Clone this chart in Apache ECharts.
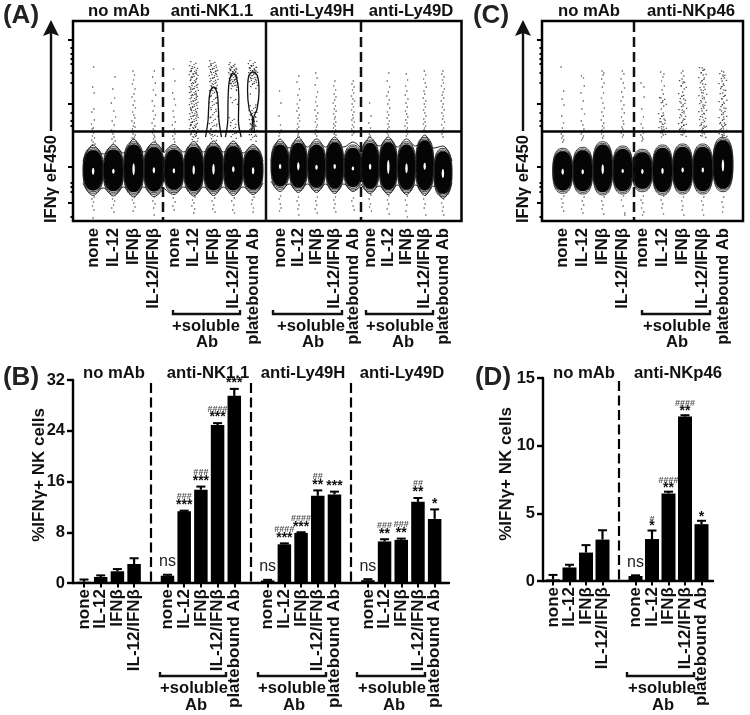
<!DOCTYPE html>
<html><head><meta charset="utf-8">
<style>html,body{margin:0;background:#fff}#c{width:750px;height:715px;filter:blur(0.35px)}</style>
<script src="https://cdn.jsdelivr.net/npm/echarts@6/dist/echarts.min.js"></script>
</head><body><div id="c"></div>
<script>
// ---------- categories ----------
const catsNoMab = ['none','IL-12','IFNβ','IL-12/IFNβ'];
const catsAb = ['none','IL-12','IFNβ','IL-12/IFNβ','platebound Ab'];

// ---------- bar values: B ----------
const barNoMabB = [0.2,0.95,1.85,3.0];
const errNoMabB = [0.55,1.2,2.2,3.9];
const barNK11 = [1.15,11.3,14.7,24.9,29.5];
const errNK11 = [1.3,11.4,15.2,25.2,30.6];
const barLy49H = [0.4,6.1,7.9,13.75,13.95];
const errLy49H = [0.5,6.25,8.0,14.6,14.4];
const barLy49D = [0.45,6.55,6.8,12.8,10.1];
const errLy49D = [0.6,6.9,7.0,13.4,11.6];
const starsNK11 = ['ns','***','***','***','***'];
const hashNK11 = ['','###','###','####',''];
const starsLy49H = ['ns','***','***','**','***'];
const hashLy49H = ['','####','####','##',''];
const starsLy49D = ['ns','**','**','**','*'];
const hashLy49D = ['','###','###','##',''];

// ---------- bar values: D ----------
const barNoMabD = [0.12,1.0,2.1,3.06];
const errNoMabD = [0.45,1.2,2.65,3.75];
const barNKp46 = [0.37,3.1,6.47,12.15,4.2];
const errNKp46 = [0.42,3.73,6.6,12.25,4.45];
const starsNKp46 = ['ns','*','**','**','*'];
const hashNKp46 = ['','#','####','####',''];

// ---------- flow plot axis ----------
const flowMajorTicks = [181,117,54,18];
const flowMinorTicks = [173,167,162,157,148,138,108,100,95,38,34,29,4];
const gateValue = 90;

// ---------- flow contours: [top, bottom] of each lane's contour, hole height ----------
const topA0 = [73.7,74.3,79.3,76.7], botA0 = [27.7,27,26,26.7], holeA0 = [7,5,12,6];
const topA1 = [74.3,77,77.7,77.7,74.3], botA1 = [28.3,27,27.7,27.7,28.3], holeA1 = [5,9,11,6,7];
const topA2 = [79.3,81,79.3,81.7,76], botA2 = [31.7,30.3,30.3,29.3,31], holeA2 = [5,8,5,5,4];
const topA3 = [81,81.7,79.3,83.7,72.7], botA3 = [29.3,28.3,28.3,27.7,24.3], holeA3 = [6,14,10,7,9];
const topC0 = [72.7,73.7,79.3,75], botC0 = [27.7,27,26,27], holeC0 = [6,5,10,4];
const topC1 = [71.7,76,77,77,83.7], botC1 = [29.3,26,27,27,29.3], holeC1 = [5,6,5,5,12];

// wave = dip, peak, dip, peak ... of the outermost contour
const waveTopA0 = [60,76,67,76.5,68,82,69,79,68], waveBotA0 = [38,25.5,33,25,34,24,34,24.5,33];
const waveTopA1 = [68,76.5,69,79.5,69,80,69,80,68,76.5,60], waveBotA1 = [33,26.5,34,25,34,25.5,34,25.5,34,26.5,38];
const waveTopA2 = [60,82,73,83.5,74,82,74,84,74,79,71], waveBotA2 = [40,29.5,37,28.5,37,28.5,37,27.5,37,29.5,37];
const waveTopA3 = [71,83.5,75,84,74,82,75,86,73,75,60], waveBotA3 = [37,27.5,35,26.5,36,26.5,36,25.5,35,22.5,38];

// tall contour loops of the anti-NK1.1 lanes
const loopIFNb = [[1.6,84],[1.72,100],[1.76,115],[1.82,128],[2,134],[2.18,128],[2.24,115],[2.28,100],[2.4,84]];
const loopCombo = [[2.6,84],[2.72,100],[2.74,125],[2.82,142],[3,148],[3.18,142],[3.28,125],[3.26,100],[3.4,84]];
const loopPlate = [[3.93,88],[3.97,103],[3.8,112],[3.72,130],[3.78,145],[4,149],[4.22,145],[4.3,130],[4.2,112],[4.03,103],[4.07,88]];

// ---------- flow dots, per lane: dx (% of a lane), y, dx, y ... ----------
const dotsA0 = [
 [3,154,-2,134,5,128,-6,109,4,112,-8,97,6,101,1,93,-5,92,2,88,-3,85,7,83,-7,81,0,79,9,77,-4,76,5,24,-6,22,2,19,-3,15,4,11,0,3],
 [8,144,-3,132,6,123,-10,118,2,110,11,104,-6,100,4,96,-9,91,7,90,-2,87,3,84,-7,82,9,80,0,78,-4,22,6,20,1,16,-8,13,3,9],
 [-3,150,4,146,0,141,-6,137,7,132,2,127,-8,124,5,120,-2,116,9,113,-5,109,1,106,6,103,-9,100,3,98,-1,95,7,94,-6,92,2,90,-3,87,8,86,4,84,-7,83,0,82,5,24,-6,21,1,18,7,14,-2,10],
 [2,150,-6,144,7,138,-2,131,9,126,-8,120,3,115,-4,110,8,106,0,102,-9,98,5,95,-3,92,6,90,-7,88,1,86,4,84,-2,82,7,80,3,24,-5,20,6,17,-1,13,2,6]];
const dotsA1 = [
 [-2,152,5,140,-6,128,2,122,8,116,-4,110,0,104,7,99,-8,96,3,92,-3,89,6,87,-6,85,1,82,4,79,-3,23,6,19,-5,15,2,11],
 [-12,150,14,147,-15,133,13,126,-14,112,15,105,-13,96,12,88,7,24,-6,21,1,18,-9,15,5,12,0,8],
 [-14,156,13,150,-16,130,14,118,-13,104,15,95,-12,86,6,23,-7,20,2,16,-4,12,8,9],
 [-15,151,14,146,-12,138,16,131,-17,90,15,88,5,23,-8,20,3,16,-3,11,6,8],
 [-16,153,15,150,-14,127,14,116,-12,92,13,86,5,24,-4,21,-8,17,2,13,0,9]];
const clusterA1 = [
 [],
 [2,156,-4,152,5,149,-1,146,-6,143,4,140,0,137,6,134,-5,131,2,128,-3,125,5,122,-1,119,3,116,-5,113,1,110,6,107,-3,104,2,101,-6,98,4,95,0,92,-4,89,5,86,1,83],
 [-2,157,4,154,-6,151,1,148,6,145,-4,142,2,139,-1,136,4,132,-3,127,2,121,-5,115,5,108,0,100,-4,94,3,88,-2,84],
 [0,155,-5,153,5,151,-2,149,3,147,-6,145,1,143,6,141,-3,139,2,137,-1,134,4,120,-4,100,2,92,-2,86],
 [1,157,-7,154,6,152,-2,150,4,147,-5,145,0,142,7,139,-3,136,3,112,-3,107,2,103,-2,98,3,94,0,88,-2,83]];
const dotsA2 = [
 [-3,130,5,118,-6,105,2,96,7,91,-2,88,-6,85,3,25,-5,22,1,17,6,13,-3,10],
 [3,145,-7,139,6,132,-2,126,8,121,-5,117,2,113,-8,110,5,106,-1,103,7,100,-4,97,2,94,-6,92,4,89,0,87,-3,85,6,84,1,24,-7,20,4,16,-2,12,3,6],
 [-4,148,3,143,-7,136,6,129,0,124,-5,119,4,115,-8,111,7,108,-2,105,2,102,-6,99,5,96,0,94,-3,91,6,89,-7,87,2,85,5,24,-4,20,1,16,-7,12,4,8],
 [1,140,-6,135,5,131,-3,127,7,124,0,121,-8,118,4,115,-2,112,8,110,-6,107,3,104,-1,102,6,99,-5,97,2,95,-7,93,5,91,0,89,-3,87,7,86,4,24,-5,21,2,17,-3,13,6,9],
 [2,140,-5,137,7,134,-2,131,4,128,-8,125,0,122,9,120,-4,117,3,114,-7,111,6,109,-1,106,2,103,-6,101,8,99,-3,96,4,94,-7,92,1,90,5,88,-4,86,3,23,-6,20,1,15,7,11]];
const dotsA3 = [
 [-3,118,5,105,-7,98,2,93,6,90,-4,87,1,85,-6,84,4,26,-5,22,2,17,-3,14,7,10],
 [3,148,-6,140,7,134,0,129,-8,125,5,121,-2,117,8,113,-5,109,2,106,-7,103,6,100,-1,97,4,94,-4,92,7,90,-6,88,1,86,3,25,-5,21,2,17,-6,12,5,7],
 [-1,147,6,141,-5,135,2,130,-7,126,8,122,-3,118,4,114,-6,110,1,107,7,104,-4,101,3,98,-8,95,5,93,0,91,-3,89,6,87,-1,85,4,25,-6,21,2,16,-3,10,5,4],
 [-2,150,5,146,-6,142,3,138,8,134,-4,130,0,127,-8,123,6,120,-2,117,4,114,-6,111,1,108,7,105,-5,102,2,99,-7,97,5,95,-1,93,3,90,8,89,-4,91,4,26,-6,22,2,17,-3,13,6,6],
 [0,150,-6,147,6,144,-2,141,3,138,-8,135,8,132,1,129,-4,126,5,123,-9,120,2,117,-3,114,7,111,-6,108,3,105,-1,102,9,99,-7,96,4,93,-2,91,6,89,-5,87,1,84,4,22,-7,18,2,14,-3,10,5,6]];
const dotsC0 = [
 [-8,154,5,130,-3,122,6,116,-5,105,4,98,-2,93,7,90,-7,87,1,85,-4,83,5,81,0,79,6,25,-6,22,1,18,-4,14,5,10],
 [-6,145,4,143,8,135,-9,128,3,120,-4,112,9,107,-7,100,1,96,6,92,-3,89,-7,87,4,85,0,83,-5,81,7,24,-2,20,5,16,-6,12,1,8],
 [-3,150,6,148,2,146,-5,142,7,138,-2,134,4,128,-6,123,1,118,8,113,-4,109,3,105,-7,101,5,98,-1,95,6,93,-3,91,2,89,-6,87,4,85,0,83,7,24,-5,20,2,16,-3,12,5,7],
 [-2,150,6,147,-8,142,3,138,9,133,-5,129,1,124,-9,120,6,116,-3,112,8,108,-6,104,2,100,5,97,-4,94,0,92,7,90,-7,88,3,86,-1,84,4,25,-6,21,2,15,10,8,11,6]];
const dotsC1 = [
 [-7,138,8,134,9,124,-3,112,5,104,-6,97,2,93,-4,90,6,88,-8,86,0,84,3,82,-2,80,5,25,-6,21,2,18,-4,13,7,9,1,6],
 [-9,149,7,147,2,144,-5,140,9,135,-2,131,4,127,-8,123,1,119,6,115,-6,112,3,108,-3,105,8,102,-7,99,0,97,5,94,-4,92,2,90,-1,88,4,86,-5,84,6,25,-7,21,1,17,-3,13,5,7],
 [1,150,-6,148,6,145,-3,142,3,139,-7,135,8,132,0,129,-4,125,5,122,-8,118,2,115,-2,111,7,108,-5,105,4,102,-1,99,6,96,-6,94,2,92,-3,90,7,88,0,86,4,24,-5,20,1,15,-3,11,6,6],
 [-3,153,5,151,-7,148,2,146,8,143,-5,140,0,137,6,134,-8,131,3,128,-2,125,7,122,-6,119,1,116,5,113,-4,110,8,107,-1,104,3,101,-7,98,6,95,0,93,-4,91,4,89,8,87,-2,85,5,24,-6,20,2,16,-2,11,4,6],
 [-6,150,4,149,0,146,7,143,-4,140,2,137,-8,134,5,131,-1,128,8,125,-5,122,3,119,-3,116,6,113,-7,110,1,107,4,104,-2,101,7,98,-6,96,0,94,3,92,-4,90,6,88,-1,86,4,24,-5,19,1,14,-2,9]];
const clusterC1 = [
 [], [2,120,-3,104,3,96,-1,90],
 [1,137,-3,124,3,116,-2,108,2,100,-3,94,1,88],
 [0,150,-3,140,3,130,-2,122,2,114,-3,106,1,98,3,92,-2,87],
 [1,144,-3,134,3,124,-2,116,2,108,-3,100,1,94,3,88,-2,84]];

const headers = {
  A:[{t:'no mAb',x:119,y:11},{t:'anti-NK1.1',x:212,y:11},{t:'anti-Ly49H',x:312,y:11},{t:'anti-Ly49D',x:411,y:11}],
  C:[{t:'no mAb',x:589,y:11},{t:'anti-NKp46',x:691,y:11}],
  B:[{t:'no mAb',x:114,y:373},{t:'anti-NK1.1',x:208,y:373},{t:'anti-Ly49H',x:303,y:373},{t:'anti-Ly49D',x:402,y:373}],
  D:[{t:'no mAb',x:584,y:373},{t:'anti-NKp46',x:678,y:373}]
};

const FONT = '"Liberation Sans", Arial, sans-serif';
const INK = '#111';
const grid=[], xAxis=[], yAxis=[], series=[], graphic=[];
const CLUSTER = 'path://M0 0h1.6v1.6h-1.6z M6 2h1.6v1.6h-1.6z M2 6h1.6v1.6h-1.6z M8 8h1.6v1.6h-1.6z M4 3.5h1.4v1.4h-1.4z';

function txt(t,x,y,size,opts){
  opts=opts||{};
  graphic.push({type:'text',x,y,rotation:opts.rot||0,z:20,style:{text:t,font:`${opts.weight||'bold'} ${size}px ${FONT}`,fill:opts.fill||INK,textAlign:opts.align||'center',textVerticalAlign:'middle'}});
}
function gline(x1,y1,x2,y2,w,dash){
  graphic.push({type:'line',z:20,shape:{x1,y1,x2,y2},style:{stroke:INK,lineWidth:w,lineDash:dash||null}});
}
function bracket(x0,x1,y,cx,y1,y2,cxAb){
  graphic.push({type:'polyline',z:20,shape:{points:[[x0,y-4],[x0,y],[x1,y],[x1,y-4]]},style:{stroke:INK,lineWidth:2.4,fill:null}});
  txt('+soluble',cx,y1,16.6);
  txt('Ab',cxAb,y2,16.6);
}
function pairs(list,lane){const o=[];for(let i=0;i<list.length;i+=2)o.push([lane+list[i]/100,list[i+1]]);return o;}

// rounded lane outline (a superellipse) so the contour blobs keep their full sides
function blob(cx,cy,rx,ry,style){
  const points=[];
  for(let k=0;k<48;k++){
    const t=k/48*2*Math.PI, c=Math.cos(t), s=Math.sin(t), e=2/2.5;
    points.push([cx+rx*Math.sign(c)*Math.pow(Math.abs(c),e),cy+ry*Math.sign(s)*Math.pow(Math.abs(s),e)]);
  }
  return {type:'polygon',shape:{points},style};
}
function ellipseSeries(x,y,tops,bots,holes){
  const data=tops.map((t,i)=>[i,bots[i],t,holes[i]]);
  series.push({type:'custom',xAxisIndex:x,yAxisIndex:y,z:3,silent:true,data,clip:false,
    encode:{x:0,y:[1,2]},
    renderItem(p,api){
      const lane=api.value(0), a=api.coord([lane,api.value(1)]), b=api.coord([lane,api.value(2)]);
      const cx=a[0], cy=(a[1]+b[1])/2, ry=(a[1]-b[1])/2, rx=api.size([0.5,0])[0];
      const hole=api.value(3);
      return {type:'group',children:[
        blob(cx,cy,rx,ry,{fill:'#fff',stroke:'#222',lineWidth:0.9}),
        blob(cx,cy,rx-0.3,ry-1.6,{fill:'#fff',stroke:'#222',lineWidth:0.9}),
        blob(cx,cy,rx-0.5,ry-2.9,{fill:'#050505',stroke:'#050505',lineWidth:0.5}),
        {type:'ellipse',shape:{cx,cy:cy+1,rx:1.2,ry:hole/2},style:{fill:'#fff'}}
      ]};
    }});
}
function waveSeries(x,y,vals){
  series.push({type:'line',xAxisIndex:x,yAxisIndex:y,z:4,silent:true,symbol:'none',smooth:0.4,clip:false,
    lineStyle:{color:'#222',width:1},
    data:vals.map((v,i)=>[(i-1)/2,v])});
}
function loopSeries(x,y,pts){
  series.push({type:'line',xAxisIndex:x,yAxisIndex:y,z:4,silent:true,symbol:'none',smooth:0.35,
    lineStyle:{color:'#111',width:1.3},data:pts});
}
function flowPanel(left,right,top,bottom,groups){
  const gi=grid.length;
  grid.push({left,top,width:right-left,height:bottom-top,show:true,borderColor:'#000',borderWidth:2.5,backgroundColor:'#fff',z:0});
  xAxis.push({gridIndex:gi,type:'value',min:0,max:1,show:false});
  const yAi=yAxis.length;
  const yBase={gridIndex:gi,type:'value',min:0,max:200,position:'left',axisLine:{show:false},splitLine:{show:false},axisLabel:{show:false}};
  yAxis.push({...yBase,axisTick:{show:true,length:5,inside:false,customValues:flowMajorTicks,lineStyle:{color:'#000',width:2}}});
  yAxis.push({...yBase,axisTick:{show:true,length:2.5,inside:false,customValues:flowMinorTicks,lineStyle:{color:'#000',width:2}}});
  const xAi=xAxis.length-1;
  series.push({type:'line',xAxisIndex:xAi,yAxisIndex:yAi,data:[],z:6,silent:true,
    markLine:{silent:true,symbol:'none',label:{show:false},animation:false,lineStyle:{color:'#000',width:2.5,type:'solid'},data:[{yAxis:gateValue}]}});
  series.push({type:'line',xAxisIndex:xAi,yAxisIndex:yAi+1,data:[],silent:true});
  groups.forEach(g=>{
    const n=g.cats.length, gj=grid.length;
    grid.push({left:g.lo,top,width:g.hi-g.lo,height:bottom-top});
    const xCat=xAxis.length;
    xAxis.push({gridIndex:gj,type:'category',data:g.cats,axisLine:{show:false},axisTick:{show:false},
      axisLabel:{interval:0,rotate:90,margin:7,fontFamily:FONT,fontWeight:'bold',fontSize:16.7,color:INK,hideOverlap:false}});
    const xVal=xAxis.length;
    xAxis.push({gridIndex:gj,type:'value',min:-0.5,max:n-0.5,show:false});
    const yv=yAxis.length;
    yAxis.push({gridIndex:gj,type:'value',min:0,max:200,show:false});
    const pts=[];g.dots.forEach((d,l)=>pts.push(...pairs(d,l)));
    series.push({type:'scatter',xAxisIndex:xVal,yAxisIndex:yv,z:1,silent:true,symbol:'rect',symbolSize:1.3,
      itemStyle:{color:'#333'},data:pts});
    if(g.cluster){
      const cl=[];g.cluster.forEach((d,l)=>cl.push(...pairs(d,l)));
      series.push({type:'scatter',xAxisIndex:xVal,yAxisIndex:yv,z:1,silent:true,symbol:CLUSTER,symbolSize:8,
        itemStyle:{color:'#222'},data:cl});
    }
    ellipseSeries(xVal,yv,g.tops,g.bots,g.holes);
    if(g.waveTop){waveSeries(xVal,yv,g.waveTop);waveSeries(xVal,yv,g.waveBot);}
    (g.loops||[]).forEach(l=>loopSeries(xVal,yv,l));
    // the category axis needs a series to keep its labels
    series.push({type:'bar',xAxisIndex:xCat,yAxisIndex:yv,data:[],silent:true});
  });
}
function barPanel(cfg){
  const gi=grid.length;
  grid.push({left:cfg.axisX,top:cfg.top,width:cfg.lineEnd-cfg.axisX,height:cfg.bottom-cfg.top});
  const xb=xAxis.length,yb=yAxis.length;
  xAxis.push({gridIndex:gi,type:'value',min:0,max:1,axisLine:{show:true,lineStyle:{color:'#000',width:2.4}},axisTick:{show:false},axisLabel:{show:false},splitLine:{show:false}});
  yAxis.push({gridIndex:gi,type:'value',min:0,max:cfg.max,interval:cfg.interval,axisLine:{show:true,lineStyle:{color:'#000',width:2.4}},
    axisTick:{show:true,length:6,lineStyle:{color:'#000',width:2.4}},splitLine:{show:false},
    axisLabel:{margin:8,fontFamily:FONT,fontWeight:'bold',fontSize:16.5,color:INK}});
  series.push({type:'line',xAxisIndex:xb,yAxisIndex:yb,data:[],silent:true});
  const gj=grid.length;
  grid.push({left:cfg.barLeft,top:cfg.top,width:cfg.barRight-cfg.barLeft,height:cfg.bottom-cfg.top});
  const xc=xAxis.length,yc=yAxis.length;
  const isBlank=(i,v)=>v!=='' ;
  xAxis.push({gridIndex:gj,type:'category',data:cfg.cats,axisLine:{show:false},
    axisTick:{show:true,alignWithLabel:true,length:4.5,interval:isBlank,lineStyle:{color:'#000',width:2}},
    axisLabel:{interval:0,rotate:90,margin:6,fontFamily:FONT,fontWeight:'bold',fontSize:17,color:INK,hideOverlap:false}});
  yAxis.push({gridIndex:gj,type:'value',min:0,max:cfg.max,show:false});
  series.push({type:'bar',xAxisIndex:xc,yAxisIndex:yc,data:cfg.bars,barWidth:cfg.barWidth,itemStyle:{color:'#000'},silent:true,z:3,
    markLine:{silent:true,symbol:'none',animation:false,label:{show:false},lineStyle:{color:'#000',width:2.2,type:[10,4.5]},
      data:cfg.dividers.map(i=>[{xAxis:i,yAxis:cfg.max*0.985},{xAxis:i,yAxis:0}])}});
  series.push({type:'custom',xAxisIndex:xc,yAxisIndex:yc,z:4,silent:true,clip:false,
    data:cfg.errs.map((e,i)=>[i,cfg.bars[i],e]).filter(d=>d[2]!=null),
    encode:{x:0,y:[1,2]},
    renderItem(p,api){
      const a=api.coord([api.value(0),api.value(1)]),b=api.coord([api.value(0),api.value(2)]);
      return {type:'group',children:[
        {type:'line',shape:{x1:a[0],y1:a[1],x2:b[0],y2:b[1]},style:{stroke:'#000',lineWidth:2.2}},
        {type:'line',shape:{x1:a[0]-4.5,y1:b[1],x2:a[0]+4.5,y2:b[1]},style:{stroke:'#000',lineWidth:2}}
      ]};
    }});
  series.push({type:'custom',xAxisIndex:xc,yAxisIndex:yc,z:5,silent:true,clip:false,
    data:cfg.errs.map((e,i)=>[i,e]).filter(d=>cfg.stars[d[0]]),
    encode:{x:0,y:1},
    renderItem(p,api){
      const i=api.value(0), c=api.coord([i,api.value(1)]), s=cfg.stars[i], h=cfg.hash[i];
      const kids=[];
      if(s==='ns'){
        kids.push({type:'text',style:{text:'ns',x:c[0],y:c[1]-13,font:`normal 16px ${FONT}`,fill:'#222',textAlign:'center',textVerticalAlign:'middle'}});
      }else{
        kids.push({type:'text',style:{text:s,x:c[0],y:c[1]-cfg.starGap,font:`bold 14px ${FONT}`,fill:'#111',textAlign:'center',textVerticalAlign:'middle'}});
        if(h)kids.push({type:'text',style:{text:h,x:c[0],y:c[1]-cfg.hashGap,font:`bold 9px ${FONT}`,fill:'#555',textAlign:'center',textVerticalAlign:'middle'}});
      }
      return {type:'group',children:kids};
    }});
}

// ---------- panel A ----------
flowPanel(73,461.5,21,221,[
 {lo:83,hi:164,cats:catsNoMab,tops:topA0,bots:botA0,holes:holeA0,waveTop:waveTopA0,waveBot:waveBotA0,dots:dotsA0},
 {lo:164,hi:263,cats:catsAb,tops:topA1,bots:botA1,holes:holeA1,waveTop:waveTopA1,waveBot:waveBotA1,dots:dotsA1,cluster:clusterA1,loops:[loopIFNb,loopCombo,loopPlate]},
 {lo:271,hi:362,cats:catsAb,tops:topA2,bots:botA2,holes:holeA2,waveTop:waveTopA2,waveBot:waveBotA2,dots:dotsA2},
 {lo:361,hi:452,cats:catsAb,tops:topA3,bots:botA3,holes:holeA3,waveTop:waveTopA3,waveBot:waveBotA3,dots:dotsA3}
]);
// ---------- panel C ----------
flowPanel(542,743,21,221,[
 {lo:552.7,hi:632.7,cats:catsNoMab,tops:topC0,bots:botC0,holes:holeC0,dots:dotsC0},
 {lo:632.3,hi:733,cats:catsAb,tops:topC1,bots:botC1,holes:holeC1,dots:dotsC1,cluster:clusterC1}
]);
// ---------- panel B ----------
barPanel({axisX:73,lineEnd:449,top:380,bottom:583,max:32,interval:8,barLeft:75.65,barRight:443,barWidth:13.5,
  cats:[...catsNoMab,'',...catsAb,'',...catsAb,'',...catsAb],
  bars:[...barNoMabB,null,...barNK11,null,...barLy49H,null,...barLy49D],
  errs:[...errNoMabB,null,...errNK11,null,...errLy49H,null,...errLy49D],
  stars:['','','','','',...starsNK11,'',...starsLy49H,'',...starsLy49D],
  hash:['','','','','',...hashNK11,'',...hashLy49H,'',...hashLy49D],
  dividers:[4,10,16],starGap:5.5,hashGap:14});
// ---------- panel D ----------
barPanel({axisX:543,lineEnd:713,top:378,bottom:581,max:15,interval:5,barLeft:544.75,barRight:709.75,barWidth:14,
  cats:[...catsNoMab,'',...catsAb],
  bars:[...barNoMabD,null,...barNKp46],
  errs:[...errNoMabD,null,...errNKp46],
  stars:['','','','','',...starsNKp46],
  hash:['','','','','',...hashNKp46],
  dividers:[4],starGap:4,hashGap:11.5});

// ---------- annotations ----------
Object.values(headers).flat().forEach(h=>txt(h.t,h.x,h.y,16.7));
txt('(A)',21,16,26,{fill:'#222'});txt('(B)',21,378,26,{fill:'#222'});txt('(C)',491,16,26,{fill:'#222'});txt('(D)',493,378,26,{fill:'#222'});
// dividers in flow panels
gline(163,22,163,220,2.5,[10,5]);gline(266,22,266,220,2.5);gline(361,22,361,220,2.5,[10,5]);
gline(634,22,634,220,2.5,[10,5]);
// arrows + flow axis titles
[51,523].forEach(x=>{
  gline(x,131,x,30,2.4);
  graphic.push({type:'polygon',z:20,shape:{points:[[x,20],[x+8,36],[x,33],[x-8,36]]},style:{fill:INK}});
  txt('IFNγ eF450',x,179,16.7,{rot:Math.PI/2});
});
txt('%IFNγ+ NK cells',39,475,17,{rot:Math.PI/2});
txt('%IFNγ+ NK cells',506,474,17,{rot:Math.PI/2});
bracket(173,240,314,206,326,342,207);
bracket(273,342,314,311,326,342,313);
bracket(366,433,314,400,326,342,403);
bracket(642,710,314,677,326,342,677);
bracket(160,226,676,194,688,705,196);
bracket(258,326,676,292,688,705,294);
bracket(357,425,676,392,688,705,394);
bracket(627,694,676,662,688,705,663);

const chart=echarts.init(document.getElementById('c'),null,{renderer:'canvas'});
chart.setOption({animation:false,backgroundColor:'#fff',grid,xAxis,yAxis,series,graphic});
</script></body></html>
